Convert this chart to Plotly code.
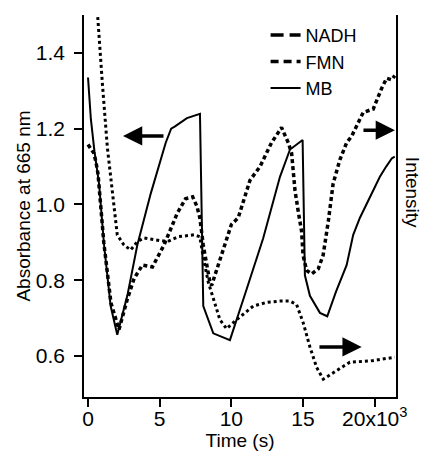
import plotly.graph_objects as go

# Time in seconds
mb_t = [0, 200, 450, 770, 1120, 1580, 2040, 2740, 3440, 4370, 5420, 5800, 6070, 6900, 7810,
        8040, 8740, 9900, 11070, 12220, 13390, 14090, 14970, 15130, 15480, 16180, 16690,
        17300, 18040, 18500, 18970, 19430, 19900, 20360, 20800, 21200, 21400]
mb_v = [1.335, 1.225, 1.14, 1.055, 0.893, 0.732, 0.656, 0.759, 0.893, 1.028, 1.163, 1.20, 1.206, 1.228, 1.239,
        0.732, 0.660, 0.642, 0.777, 0.911, 1.073, 1.145, 1.170, 0.813, 0.759, 0.714, 0.705,
        0.77, 0.84, 0.92, 0.965, 1.0, 1.04, 1.073, 1.10, 1.122, 1.126]

nadh_t = [0, 400, 550, 700, 1100, 1600, 2160, 2740, 3210, 3790, 4490, 5300, 6000, 6200, 6800, 7300, 7600, 7800,
          8040, 8270, 8500, 8620, 8740, 9200, 9670, 10000, 10480, 10830, 11070, 11300, 12000, 12800, 13500,
          13970, 14200, 14320, 14440, 14660, 14900, 15000, 15250, 15600, 16060, 16400, 16760, 17100, 17570,
          18040, 18390, 19200, 19900, 20480, 20830, 21180, 21400]
nadh_v = [1.158, 1.136, 1.113, 1.08, 0.90, 0.74, 0.670, 0.75, 0.804, 0.84, 0.835, 0.893, 0.956, 0.975, 1.015, 1.02, 0.995, 0.965,
          0.893, 0.84, 0.795, 0.786, 0.80, 0.857, 0.911, 0.947, 0.965, 1.01, 1.037, 1.064, 1.10, 1.163, 1.203,
          1.163, 1.136, 1.082, 1.037, 0.983, 0.929, 0.866, 0.826, 0.817, 0.83, 0.866, 0.955, 1.055, 1.118,
          1.163, 1.18, 1.243, 1.252, 1.306, 1.333, 1.329, 1.34]

fmn_t = [300, 650, 1000, 1350, 1580, 1810, 2040, 2510, 2980, 3440, 3900, 5000, 5530, 6300, 7390, 7800,
         8040, 8390, 8740, 9200, 9670, 10370, 11530, 12500, 13390, 14090, 14550, 15020, 15480, 15950, 16410,
         17340, 18270, 19670, 21180, 21400]
fmn_v = [1.70, 1.50, 1.32, 1.15, 1.073, 0.983, 0.92, 0.893, 0.88, 0.902, 0.912, 0.905, 0.902, 0.915, 0.92, 0.915,
         0.86, 0.795, 0.75, 0.696, 0.672, 0.696, 0.732, 0.742, 0.745, 0.745, 0.736, 0.687, 0.624, 0.570, 0.539,
         0.561, 0.584, 0.587, 0.596, 0.597]

x_tickvals = [0, 5000, 10000, 15000, 20000]
x_ticktext = ["0", "5", "10", "15", "20x10<sup>3</sup>"]
y_tickvals = [0.6, 0.8, 1.0, 1.2, 1.4]
y_ticktext = ["0.6", "0.8", "1.0", "1.2", "1.4"]

X_RANGE = [-280, 21485]
Y_RANGE = [0.492, 1.50]
FONT = "Liberation Sans, Arial, sans-serif"

fig = go.Figure()
fig.add_trace(go.Scatter(x=nadh_t, y=nadh_v, mode="lines", yaxis="y2", showlegend=False,
                         line=dict(color="black", width=3.5, dash="4px,3px")))
fig.add_trace(go.Scatter(x=fmn_t, y=fmn_v, mode="lines", yaxis="y2", showlegend=False,
                         line=dict(color="black", width=3, dash="3px,3px")))
fig.add_trace(go.Scatter(x=mb_t, y=mb_v, mode="lines", showlegend=False,
                         line=dict(color="black", width=2)))
# legend entries
fig.add_trace(go.Scatter(x=[None], y=[None], mode="lines", name="NADH",
                         line=dict(color="black", width=3.5, dash="13px,6px")))
fig.add_trace(go.Scatter(x=[None], y=[None], mode="lines", name="FMN",
                         line=dict(color="black", width=3.5, dash="8px,5px")))
fig.add_trace(go.Scatter(x=[None], y=[None], mode="lines", name="MB",
                         line=dict(color="black", width=2)))

arrows = [
    dict(x=2440, y=1.181, ax=5370, ay=1.181),
    dict(x=21410, y=1.196, ax=19110, ay=1.196),
    dict(x=19090, y=0.624, ax=16040, ay=0.624),
]
for a in arrows:
    fig.add_annotation(x=a["x"], y=a["y"], ax=a["ax"], ay=a["ay"], xref="x", yref="y",
                       axref="x", ayref="y", text="", showarrow=True, arrowhead=2,
                       arrowsize=1.1, arrowwidth=3.5, arrowcolor="black")

fig.add_annotation(x=1, y=0.537, xref="paper", yref="paper", xanchor="center", yanchor="middle",
                   xshift=16, text="Intensity", textangle=90, showarrow=False,
                   font=dict(size=19, color="black", family=FONT))

axis_common = dict(showline=True, linecolor="black", linewidth=1.5, showgrid=False,
                   zeroline=False, automargin=False)
# The page body adds an 8px offset, so the figure is sized to fit the window.
fig.update_layout(
    width=421, height=444,
    margin=dict(l=76, r=33, t=7, b=55),
    paper_bgcolor="white", plot_bgcolor="white",
    font=dict(family=FONT, size=20, color="black"),
    xaxis=dict(range=X_RANGE, tickvals=x_tickvals, ticktext=x_ticktext, ticks="outside",
               ticklen=8, tickwidth=1.5, tickcolor="black", tickfont=dict(size=21),
               ticklabelstandoff=-6,
               title=dict(text="Time (s)", standoff=0, font=dict(size=19)), **axis_common),
    yaxis=dict(range=Y_RANGE, tickvals=y_tickvals, ticktext=y_ticktext, ticks="outside",
               ticklen=8, tickwidth=1.5, tickcolor="black", tickfont=dict(size=21),
               ticklabelstandoff=5,
               title=dict(text="Absorbance at 665 nm", standoff=0, font=dict(size=19)), **axis_common),
    yaxis2=dict(range=Y_RANGE, overlaying="y", side="right", ticks="", showticklabels=False,
                **axis_common),
    legend=dict(x=0.582, y=0.995, xanchor="left", yanchor="top", bgcolor="rgba(0,0,0,0)",
                font=dict(size=18), tracegroupgap=0),
)

fig.write_html("out.html")
